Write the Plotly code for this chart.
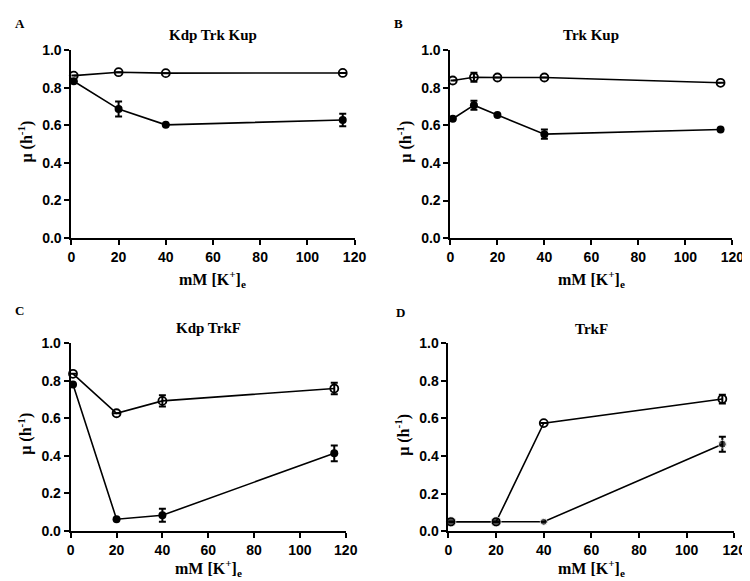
import plotly.graph_objects as go

W, H = 750, 581

panel_letters = ["A", "B", "C", "D"]
panel_titles = ["Kdp Trk Kup", "Trk Kup", "Kdp TrkF", "TrkF"]

# Panel A
a_x = [1, 20, 40, 115]
a_open = [0.864, 0.882, 0.877, 0.878]
a_open_err = [0.0, 0.0, 0.0, 0.0]
a_fill = [0.834, 0.686, 0.602, 0.628]
a_fill_err = [0.0, 0.04, 0.0, 0.033]

# Panel B
b_x = [1, 10, 20, 40, 115]
b_open = [0.838, 0.855, 0.854, 0.854, 0.826]
b_open_err = [0.0, 0.024, 0.0, 0.0, 0.0]
b_fill = [0.635, 0.707, 0.655, 0.553, 0.578]
b_fill_err = [0.0, 0.024, 0.0, 0.025, 0.0]

# Panel C
c_x = [1, 20, 40, 115]
c_open = [0.836, 0.626, 0.692, 0.758]
c_open_err = [0.0, 0.0, 0.03, 0.031]
c_fill = [0.779, 0.062, 0.083, 0.413]
c_fill_err = [0.0, 0.0, 0.035, 0.042]

# Panel D
d_x = [1, 20, 40, 115]
d_open = [0.05, 0.05, 0.575, 0.703]
d_open_err = [0.0, 0.0, 0.0, 0.023]
d_fill = [0.05, 0.05, 0.05, 0.463]
d_fill_err = [0.0, 0.0, 0.0, 0.04]
d_fill_size = [10, 10, 7, 8]

x_ticks = [0, 20, 40, 60, 80, 100, 120]
y_ticks = [0.0, 0.2, 0.4, 0.6, 0.8, 1.0]
y_ticktext = ["0.0", "0.2", "0.4", "0.6", "0.8", "1.0"]

# pixel boxes: (left, right, top, bottom)
boxes = [(60.7, 350, 35, 228.3), (448, 736, 35, 228.5),
         (60, 341, 336.3, 529.4), (446, 738, 336.5, 529.8)]
letter_pos = [(8, 8), (395, 8), (8, 303), (397, 305)]
xtitle_gap = [42, 42, 38, 38]

panels = [
    (a_x, a_open, a_open_err, a_fill, a_fill_err, None),
    (b_x, b_open, b_open_err, b_fill, b_fill_err, None),
    (c_x, c_open, c_open_err, c_fill, c_fill_err, None),
    (d_x, d_open, d_open_err, d_fill, d_fill_err, d_fill_size),
]

fig = go.Figure()
serif = "Liberation Serif, Times New Roman, serif"
sans = "Liberation Sans, Arial, sans-serif"

annotations = []
for i, (xs, yo, eo, yf, ef, fsize) in enumerate(panels):
    n = "" if i == 0 else str(i + 1)
    xa, ya = "x" + n, "y" + n
    fig.add_trace(go.Scatter(
        x=xs, y=yo, mode="lines+markers", xaxis=xa, yaxis=ya,
        line=dict(color="black", width=1.6),
        marker=dict(symbol="circle-open", size=8, color="black", line=dict(width=1.8)),
        error_y=dict(type="data", array=eo, visible=True, color="black", thickness=2, width=3.5),
        cliponaxis=False, showlegend=False))
    fig.add_trace(go.Scatter(
        x=xs, y=yf, mode="lines+markers", xaxis=xa, yaxis=ya,
        line=dict(color="black", width=1.6),
        marker=dict(symbol="circle", size=fsize if fsize else 8, color="black"),
        error_y=dict(type="data", array=ef, visible=True, color="black", thickness=2, width=3.5),
        cliponaxis=False, showlegend=False))
    l, r, t, b = boxes[i]
    xd = [l / W, r / W]
    yd = [1 - b / H, 1 - t / H]
    axis_common = dict(showline=True, linecolor="black", linewidth=2, ticks="outside",
                       ticklen=5, tickwidth=2, tickcolor="black", showgrid=False, zeroline=False,
                       tickfont=dict(family=sans, size=14, color="black", weight="bold"))
    fig.update_layout(**{
        ("xaxis" + n): dict(domain=xd, range=[0, 120], tickvals=x_ticks, anchor=ya, **axis_common),
        ("yaxis" + n): dict(domain=yd, range=[0, 1.0], tickvals=y_ticks, ticktext=y_ticktext,
                            anchor=xa, **axis_common),
    })
    cx = (l + r) / 2
    annotations.append(dict(text="<b>" + panel_titles[i] + "</b>", x=cx / W, y=1 - (t - 15) / H,
                            xref="paper", yref="paper", showarrow=False,
                            xanchor="center", yanchor="middle",
                            font=dict(family=serif, size=15, color="black")))
    lx, ly = letter_pos[i]
    annotations.append(dict(text="<b>" + panel_letters[i] + "</b>", x=lx / W,
                            y=1 - ly / H, xref="paper", yref="paper", showarrow=False,
                            xanchor="center", yanchor="middle",
                            font=dict(family=serif, size=13, color="black")))
    annotations.append(dict(text="<b>mM [K<sup>+</sup>]<sub>e</sub></b>", x=cx / W,
                            y=1 - (b + xtitle_gap[i]) / H, xref="paper", yref="paper",
                            showarrow=False, xanchor="center", yanchor="middle",
                            font=dict(family=serif, size=16, color="black")))
    annotations.append(dict(text="<b>μ (h<sup>-1</sup>)</b>", x=(l - 47) / W,
                            y=1 - ((t + b) / 2 - 3) / H, xref="paper", yref="paper",
                            showarrow=False, textangle=-90, xanchor="center", yanchor="middle",
                            font=dict(family=serif, size=16, color="black")))

fig.update_layout(width=W, height=H, margin=dict(l=0, r=0, t=0, b=0),
                  plot_bgcolor="white", paper_bgcolor="white", annotations=annotations)
fig.write_html("out.html")
